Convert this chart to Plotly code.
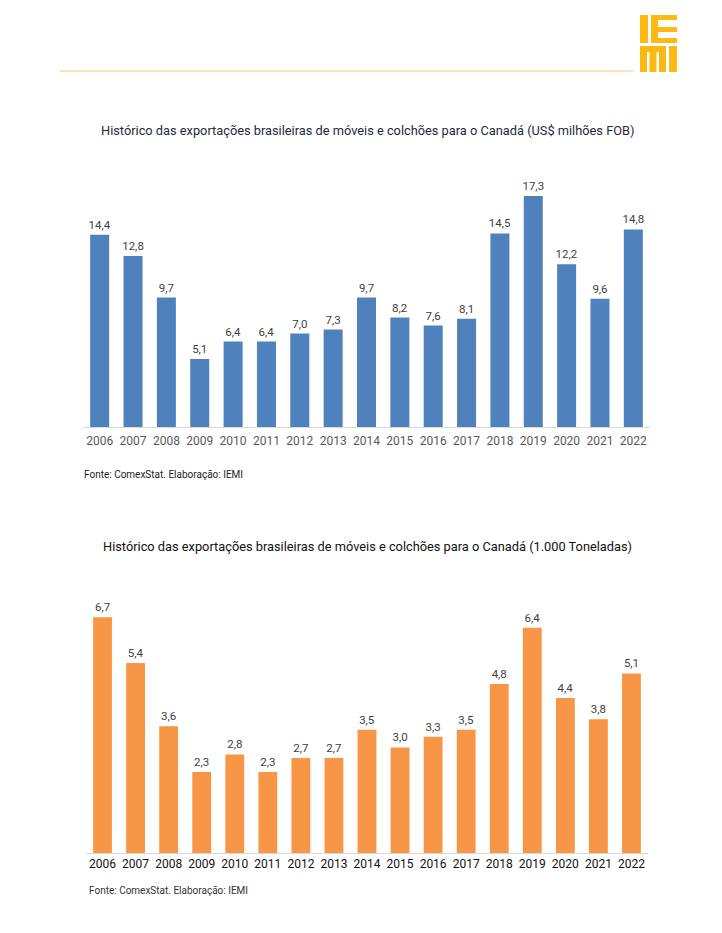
import plotly.graph_objects as go

years = [str(y) for y in range(2006, 2023)]
valores_usd = [14.4, 12.8, 9.7, 5.1, 6.4, 6.4, 7.0, 7.3, 9.7, 8.2, 7.6, 8.1, 14.5, 17.3, 12.2, 9.6, 14.8]
valores_ton = [6.7, 5.4, 3.6, 2.3, 2.8, 2.3, 2.7, 2.7, 3.5, 3.0, 3.3, 3.5, 4.8, 6.4, 4.4, 3.8, 5.1]

title_usd = "Histórico das exportações brasileiras de móveis e colchões para o Canadá (US$ milhões FOB)"
title_ton = "Histórico das exportações brasileiras de móveis e colchões para o Canadá (1.000 Toneladas)"
fonte = "Fonte: ComexStat. Elaboração: IEMI"

OFF = 8  # page body margin
W, H = 722 - 2 * OFF, 933 - 2 * OFF
def px(x):
    return (x - OFF) / W
def py(y):
    return 1 - (y - OFF) / H

fig = go.Figure()
fig.add_trace(go.Bar(
    x=years, y=valores_usd, xaxis="x", yaxis="y",
    marker=dict(color="#4F81BD", line=dict(width=0)),
    texttemplate="%{y:.1f}", textposition="outside", cliponaxis=False,
    constraintext="none",
    textfont=dict(family="Roboto", size=11.5, color="#404040"),
    hoverinfo="skip",
))
fig.add_trace(go.Bar(
    x=years, y=valores_ton, xaxis="x2", yaxis="y2",
    marker=dict(color="#F79646", line=dict(width=0)),
    texttemplate="%{y:.1f}", textposition="outside", cliponaxis=False,
    constraintext="none",
    textfont=dict(family="Roboto", size=11.5, color="#404040"),
    hoverinfo="skip",
))

fig.update_layout(
    width=W, height=H,
    margin=dict(l=0, r=0, t=0, b=0),
    paper_bgcolor="white", plot_bgcolor="white",
    showlegend=False,
    separators=",.",
    bargap=0.43,
    font=dict(family="Roboto"),
    xaxis=dict(domain=[px(83), px(650)], anchor="y", showline=True, linecolor="#D9D9D9",
               linewidth=1, ticks="", showgrid=False, ticklabelstandoff=3,
               tickfont=dict(family="Roboto", size=12, color="#595959")),
    yaxis=dict(domain=[py(427), py(180)], anchor="x", range=[0, 247 / 13.35],
               visible=False, showgrid=False),
    xaxis2=dict(domain=[px(86), px(648)], anchor="y2", showline=True, linecolor="#D9D9D9",
                linewidth=1, ticks="", showgrid=False, ticklabelstandoff=0,
                tickfont=dict(family="Roboto", size=12, color="#111111")),
    yaxis2=dict(domain=[py(853), py(575)], anchor="x2", range=[0, 278 / 35.2],
                visible=False, showgrid=False),
)

annotations = [
    dict(text=title_usd, x=px(367), y=py(130), xref="paper", yref="paper", showarrow=False,
         xanchor="center", yanchor="middle", font=dict(family="Roboto", size=12.8, color="#1F2A3C")),
    dict(text=title_ton, x=px(367), y=py(546), xref="paper", yref="paper", showarrow=False,
         xanchor="center", yanchor="middle", font=dict(family="Roboto", size=12.8, color="#111111")),
    dict(text=fonte, x=px(82), y=py(474), xref="paper", yref="paper", showarrow=False,
         xanchor="left", yanchor="middle", font=dict(family="Roboto", size=10, color="#222222")),
    dict(text=fonte, x=px(87), y=py(890), xref="paper", yref="paper", showarrow=False,
         xanchor="left", yanchor="middle", font=dict(family="Roboto", size=10, color="#333333")),
]
fig.update_layout(annotations=annotations)

gold = "#FDB913"
rects = [
    # I
    (640, 15, 648, 43),
    # E
    (651, 15, 658, 43), (651, 15, 677, 20), (651, 27, 677, 32), (651, 38, 677, 43),
    # M
    (640, 46, 666, 52), (640, 46, 647, 72), (649.5, 46, 656.5, 72), (659, 46, 666, 72),
    # I
    (669, 46, 677, 72),
]
shapes = [dict(type="line", xref="paper", yref="paper", x0=px(60), x1=px(633), y0=py(71), y1=py(71),
               line=dict(color="#F2C870", width=1))]
for x0, y0, x1, y1 in rects:
    shapes.append(dict(type="rect", xref="paper", yref="paper", x0=px(x0), x1=px(x1),
                       y0=py(y1), y1=py(y0), fillcolor=gold, line=dict(width=0)))
fig.update_layout(shapes=shapes)

fig.write_html("out.html")
